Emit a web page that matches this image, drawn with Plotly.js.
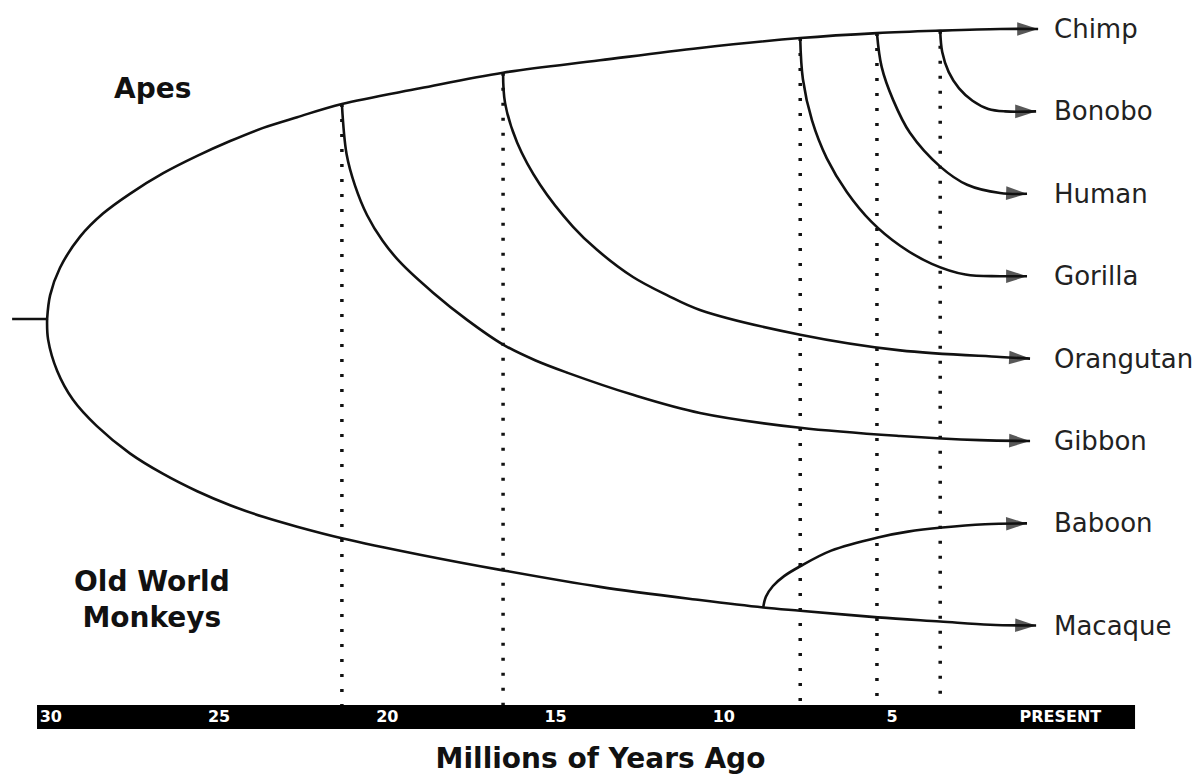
<!DOCTYPE html>
<html>
<head>
<meta charset="utf-8">
<script src="https://cdn.plot.ly/plotly-3.0.1.min.js"></script>
<style>
  html, body { margin: 0; padding: 0; background: #fff; }
  #tree { width: 1201px; height: 775px; }
</style>
</head>
<body>
<div id="tree"></div>
<script>
// =========================================================================
// Primate family tree: branches drawn against millions of years ago
// =========================================================================

// Tips, top to bottom, and the row each one sits on
const species = ['Chimp', 'Bonobo', 'Human', 'Gorilla', 'Orangutan', 'Gibbon', 'Baboon', 'Macaque'];
const speciesRow = [7, 6, 5, 4, 3, 2, 1, -0.24];

// Ape splits marked with a dotted guide down to the time bar
const splitMya = [21.35, 16.56, 7.73, 5.45, 3.57];
const splitRow = [6.09, 6.47, 6.89, 6.95, 6.98];

// Time bar
const tickMya = [30, 25, 20, 15, 10, 5, 0];
const tickLabels = ['30', '25', '20', '15', '10', '5', 'PRESENT'];

// Branches (time in Mya, row)
const rootMya = [31.15, 30.11];
const rootRow = [3.48, 3.48];

const chimpMya = [30.11, 30.02, 29.73, 29.13, 28.45, 27.65, 26.66, 25.65, 24.67, 23.69, 22.68, 21.35, 19.03, 16.56, 13.68, 10.71, 7.73, 5.45, 3.57, 1.79, 0.66];
const chimpRow = [3.48, 3.77, 4.10, 4.48, 4.76, 5.00, 5.25, 5.46, 5.64, 5.80, 5.93, 6.09, 6.28, 6.47, 6.62, 6.77, 6.89, 6.95, 6.98, 7.0, 7.0];

const bonoboMya = [3.57, 3.51, 3.32, 3.01, 2.61, 2.14, 1.64, 0.72];
const bonoboRow = [6.98, 6.72, 6.48, 6.28, 6.13, 6.03, 6.0, 6.0];

const humanMya = [5.45, 5.31, 4.97, 4.47, 3.57, 2.77, 1.79, 0.99];
const humanRow = [6.95, 6.54, 6.14, 5.74, 5.33, 5.11, 5.01, 5.0];

const gorillaMya = [7.73, 7.65, 7.38, 6.94, 6.34, 5.61, 4.76, 3.82, 2.82, 1.79, 0.99];
const gorillaRow = [6.89, 6.39, 5.89, 5.43, 5.02, 4.66, 4.37, 4.15, 4.02, 4.0, 4.0];

const orangutanMya = [16.56, 16.50, 16.14, 15.46, 14.48, 13.77, 12.70, 11.69, 10.71, 7.73, 4.76, 1.79, 0.90];
const orangutanRow = [6.47, 6.10, 5.62, 5.11, 4.60, 4.32, 3.99, 3.77, 3.59, 3.29, 3.10, 3.02, 3.0];

const gibbonMya = [21.35, 21.21, 20.96, 20.60, 20.14, 19.62, 18.64, 17.63, 16.56, 15.61, 14.66, 12.70, 10.71, 7.73, 4.76, 2.39, 0.90];
const gibbonRow = [6.09, 5.48, 5.10, 4.74, 4.43, 4.17, 3.80, 3.47, 3.17, 2.98, 2.83, 2.56, 2.34, 2.16, 2.06, 2.01, 2.0];

const macaqueMya = [30.11, 30.08, 29.81, 29.34, 28.63, 27.65, 26.66, 25.65, 24.67, 23.69, 22.68, 21.35, 19.03, 16.56, 13.68, 10.71, 8.83, 7.73, 5.42, 3.57, 2.09, 0.72];
const macaqueRow = [3.48, 3.23, 2.85, 2.50, 2.18, 1.85, 1.60, 1.39, 1.22, 1.08, 0.96, 0.82, 0.62, 0.43, 0.23, 0.07, -0.02, -0.06, -0.14, -0.19, -0.23, -0.24];

const baboonMya = [8.83, 8.75, 8.54, 8.21, 7.73, 6.81, 5.42, 4.53, 3.51, 2.24, 0.99];
const baboonRow = [-0.02, 0.11, 0.24, 0.36, 0.48, 0.67, 0.83, 0.90, 0.95, 0.99, 1.0];

// =========================================================================

const ink = '#111';
const xRange = [31.51, -4.18];
const yRange = [-1.204, 7.352];

const branches = [
    [chimpMya, chimpRow],
    [bonoboMya, bonoboRow],
    [humanMya, humanRow],
    [gorillaMya, gorillaRow],
    [orangutanMya, orangutanRow],
    [gibbonMya, gibbonRow],
    [macaqueMya, macaqueRow],
    [baboonMya, baboonRow]
];

let data = [];

// Dotted guides first so the branches sit on top
splitMya.forEach((t, i) => {
    data.push({
        x: [t, t],
        y: [splitRow[i], yRange[0]],
        mode: 'lines',
        line: { color: ink, width: 3.5, dash: '3px,12px' },
        hoverinfo: 'skip'
    });
});

data.push({
    x: rootMya,
    y: rootRow,
    mode: 'lines',
    line: { color: ink, width: 2.6 },
    hoverinfo: 'skip'
});

branches.forEach((b) => {
    let last = b[0].length - 1;
    data.push({
        x: b[0],
        y: b[1],
        mode: 'lines+markers',
        line: { color: ink, width: 2.6, shape: 'spline', smoothing: 1, simplify: false },
        marker: {
            symbol: 'arrow',
            angleref: 'previous',
            color: ink,
            size: b[0].map((v, i) => i === last ? 22 : 0),
            line: { width: 0 }
        },
        hoverinfo: 'skip'
    });
});

let annotations = species.map((name, i) => ({
    text: name,
    xref: 'paper', x: 0.876, xanchor: 'left',
    yref: 'y', y: speciesRow[i], yanchor: 'middle',
    showarrow: false,
    font: { family: 'DejaVu Sans', size: 26, color: '#222' }
}));

annotations.push({
    text: 'Apes',
    xref: 'paper', x: 0.1266, xanchor: 'center',
    yref: 'paper', y: 0.875, yanchor: 'middle',
    showarrow: false,
    font: { family: 'DejaVu Sans', size: 28, weight: 'bold', color: '#111' }
});

annotations.push({
    text: 'Old World<br>Monkeys',
    xref: 'paper', x: 0.1266, xanchor: 'center',
    yref: 'paper', y: 0.150, yanchor: 'middle',
    showarrow: false,
    font: { family: 'DejaVu Sans', size: 28, weight: 'bold', color: '#111' }
});

const layout = {
    width: 1201,
    height: 775,
    margin: { l: 0, r: 0, t: 0, b: 70 },
    paper_bgcolor: '#fff',
    plot_bgcolor: '#fff',
    showlegend: false,
    xaxis: {
        range: xRange,
        tickmode: 'array',
        tickvals: tickMya,
        ticktext: tickLabels,
        tickfont: { family: 'DejaVu Sans', size: 16, weight: 'bold', color: '#fff' },
        ticks: '',
        showgrid: false,
        zeroline: false,
        showline: false,
        title: {
            text: 'Millions of Years Ago',
            font: { family: 'DejaVu Sans', size: 28, weight: 'bold', color: '#111' },
            standoff: 24
        }
    },
    yaxis: {
        range: yRange,
        visible: false
    },
    shapes: [{
        type: 'rect',
        xref: 'x', x0: 30.41, x1: -2.22,
        yref: 'paper', y0: 0, y1: -0.034,
        fillcolor: '#000',
        line: { width: 0 },
        layer: 'below'
    }],
    annotations: annotations
};

Plotly.newPlot('tree', data, layout, { staticPlot: true });
</script>
</body>
</html>
